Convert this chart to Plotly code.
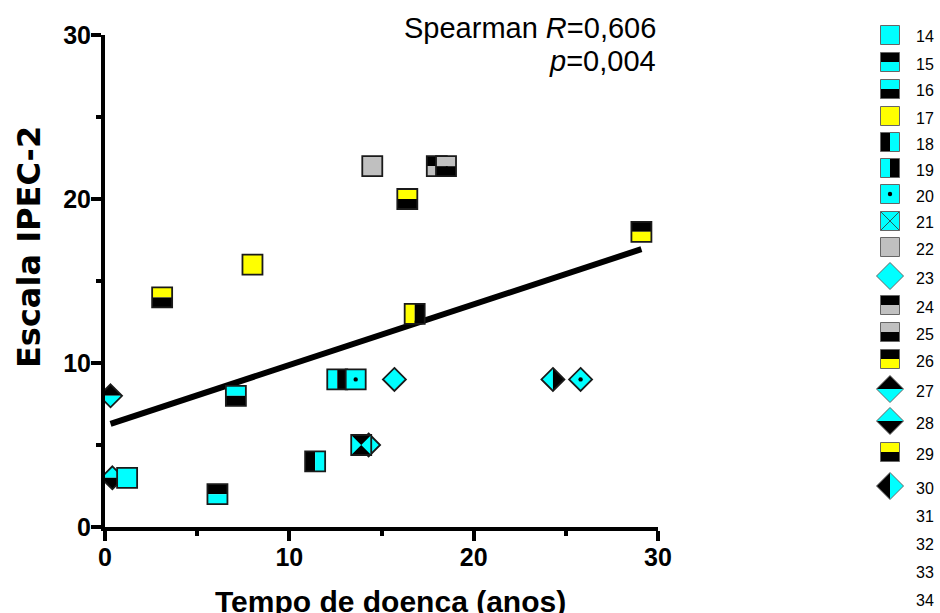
import numpy as np
import plotly.graph_objects as go

# ---------------- data ----------------
tempo_anos = [0.3, 0.4, 1.2, 6.1, 7.1, 11.4, 12.6, 13.6, 15.7, 24.3, 25.8,
              14.3, 13.9, 8.0, 3.1, 16.8, 14.5, 18.0, 18.5, 16.4, 29.1]
escala_ipec2 = [8, 3, 3, 2, 8, 4, 9, 9, 9, 9, 9,
                5, 5, 16, 14, 13, 22, 22, 22, 20, 18]
grupo = [27, 28, 14, 15, 16, 18, 19, 20, 23, 'A', 'B',
         30, 'C', 17, 29, 'D', 22, 24, 25, 29, 26]

legenda_codigos = list(range(14, 35))
legenda_sem_simbolo = [31, 32, 33, 34]

spearman_texto = ["Spearman <i>R</i>=0,606", "<i>p</i>=0,004"]
x_ticks = [0, 10, 20, 30]
y_ticks = [0, 10, 20, 30]
x_titulo = "Tempo de doenca (anos)"
y_titulo = "Escala IPEC-2"

# ---------------- styles ----------------
CY, BK, YE, GR = '#00FFFF', '#000000', '#FFFF00', '#C0C0C0'
estilos = {
    14: ('sq', [CY]), 15: ('sq_tb', [BK, CY]), 16: ('sq_tb', [CY, BK]),
    17: ('sq', [YE]), 18: ('sq_lr', [BK, CY]), 19: ('sq_lr', [CY, BK]),
    20: ('sq_dot', [CY]), 21: ('sq_x', [CY]), 22: ('sq', [GR]),
    23: ('dia', [CY]), 24: ('sq_tb', [BK, GR]), 25: ('sq_tb', [GR, BK]),
    26: ('sq_tb', [BK, YE]), 27: ('dia_tb', [BK, CY]), 28: ('dia_tb', [CY, BK]),
    29: ('sq_tb', [YE, BK]), 30: ('dia_lr', [BK, CY]),
    'A': ('dia_lr', [CY, BK]), 'B': ('dia_dot', [CY]),
    'C': ('sq_bow', [BK, CY]), 'D': ('sq_lr', [YE, BK]),
}

# layout geometry (pixels)
W, H = 940, 613
ML, MR, MT, MB = 105, 282, 35, 86
PW, PH = W - ML - MR, H - MT - MB
legend_label_px = [37, 64, 91, 118, 144, 170, 196, 223, 249, 278, 307, 334,
                   361, 391, 423, 454, 488, 516, 544, 572, 600]
legend_marker_xpx = 890
legend_label_xpx = 914


def px2paper_x(px):
    return (px - ML) / PW


def px2paper_y(py):
    return (H - MB - py) / PH


def P(pts):
    return "M " + " L ".join(f"{a},{b}" for a, b in pts) + " Z"


def marker_parts(style, colors, hs, hd):
    parts = []  # (path, fill)
    sq = P([(-hs, -hs), (hs, -hs), (hs, hs), (-hs, hs)])
    dia = P([(0, hd), (hd, 0), (0, -hd), (-hd, 0)])
    if style == 'sq':
        parts.append((sq, colors[0]))
        outline = sq
    elif style == 'sq_tb':
        parts.append((P([(-hs, 0), (hs, 0), (hs, hs), (-hs, hs)]), colors[0]))
        parts.append((P([(-hs, -hs), (hs, -hs), (hs, 0), (-hs, 0)]), colors[1]))
        outline = sq
    elif style == 'sq_lr':
        parts.append((P([(-hs, -hs), (0, -hs), (0, hs), (-hs, hs)]), colors[0]))
        parts.append((P([(0, -hs), (hs, -hs), (hs, hs), (0, hs)]), colors[1]))
        outline = sq
    elif style == 'sq_dot':
        parts.append((sq, colors[0]))
        parts.append(('circle', 2.2))
        outline = sq
    elif style == 'sq_x':
        parts.append((sq, colors[0]))
        parts.append(('xline', f"M {-hs},{-hs} L {hs},{hs} M {-hs},{hs} L {hs},{-hs}"))
        outline = sq
    elif style == 'sq_bow':
        parts.append((sq, colors[0]))
        parts.append((P([(-hs, hs), (0, 0), (-hs, -hs)]), colors[1]))
        parts.append((P([(hs, hs), (0, 0), (hs, -hs)]), colors[1]))
        outline = sq
    elif style == 'dia':
        parts.append((dia, colors[0]))
        outline = dia
    elif style == 'dia_tb':
        parts.append((P([(-hd, 0), (0, hd), (hd, 0)]), colors[0]))
        parts.append((P([(-hd, 0), (0, -hd), (hd, 0)]), colors[1]))
        outline = dia
    elif style == 'dia_lr':
        parts.append((P([(0, hd), (-hd, 0), (0, -hd)]), colors[0]))
        parts.append((P([(0, hd), (hd, 0), (0, -hd)]), colors[1]))
        outline = dia
    elif style == 'dia_dot':
        parts.append((dia, colors[0]))
        parts.append(('circle', 2.2))
        outline = dia
    return parts, outline


def make_shapes(xref, yref, x, y, code, hs, hd, lw, lc):
    style, colors = estilos[code]
    parts, outline = marker_parts(style, colors, hs, hd)
    base = dict(xref=xref, yref=yref, xsizemode='pixel', ysizemode='pixel',
                xanchor=x, yanchor=y, layer='above')
    out = []
    for a, b in parts:
        if a == 'circle':
            out.append(dict(base, type='circle', x0=-b, x1=b, y0=-b, y1=b,
                            fillcolor='black', line=dict(width=0)))
        elif a == 'xline':
            out.append(dict(base, type='path', path=b,
                            line=dict(color='#333333', width=0.8)))
        else:
            out.append(dict(base, type='path', path=a, fillcolor=b,
                            line=dict(width=0)))
    out.append(dict(base, type='path', path=outline,
                    fillcolor='rgba(0,0,0,0)', line=dict(color=lc, width=lw)))
    return out


fig = go.Figure()

# regression line (least squares through the data)
xa = np.array(tempo_anos)
ya = np.array(escala_ipec2)
slope, intercept = np.polyfit(xa, ya, 1)
xl = np.array([xa.min(), xa.max()])
fig.add_trace(go.Scatter(x=xl, y=slope * xl + intercept, mode='lines',
                         line=dict(color='black', width=6),
                         hoverinfo='skip', showlegend=False))

# invisible carrier of the points (hover); visual marks are shapes below
fig.add_trace(go.Scatter(x=tempo_anos, y=escala_ipec2, mode='markers',
                         marker=dict(size=18, opacity=0),
                         text=[str(g) for g in grupo],
                         showlegend=False))

shapes = []
for xv, yv, g in zip(tempo_anos, escala_ipec2, grupo):
    shapes += make_shapes('x', 'y', xv, yv, g, 10, 11.5, 1.8, '#1a1a1a')

annotations = []
for code, lpy in zip(legenda_codigos, legend_label_px):
    if code not in legenda_sem_simbolo:
        shapes += make_shapes('paper', 'paper', px2paper_x(legend_marker_xpx),
                              px2paper_y(lpy - 2), code, 9.5, 13.5, 1, '#666666')
    annotations.append(dict(xref='paper', yref='paper',
                            x=px2paper_x(legend_label_xpx), y=px2paper_y(lpy),
                            xanchor='left', yanchor='middle', showarrow=False,
                            text=str(code),
                            font=dict(family='Liberation Sans, Arial', size=16,
                                      color='black')))

for txt, py in zip(spearman_texto, [28, 61]):
    annotations.append(dict(xref='paper', yref='paper', x=1.0, y=px2paper_y(py),
                            xanchor='right', yanchor='middle', showarrow=False,
                            text=txt,
                            font=dict(family='Liberation Sans, Arial', size=29,
                                      color='black')))

annotations.append(dict(xref='paper', yref='paper', x=px2paper_x(390),
                        y=px2paper_y(601), xanchor='center', yanchor='middle',
                        showarrow=False, text='<b>' + x_titulo + '</b>',
                        font=dict(family='Liberation Sans, Arial', size=30,
                                  color='black')))
annotations.append(dict(xref='paper', yref='paper', x=px2paper_x(29),
                        y=px2paper_y(247), xanchor='center', yanchor='middle',
                        showarrow=False, textangle=-90,
                        text='<b>' + y_titulo + '</b>',
                        font=dict(family='DejaVu Sans', size=32, color='black')))

tickfont = dict(family='Liberation Sans Narrow, Liberation Sans, Arial',
                size=25, color='black', weight='bold')
axis_common = dict(showline=True, linewidth=4, linecolor='black',
                   ticks='outside', ticklen=10, tickwidth=4, tickcolor='black',
                   ticklabelstandoff=-5,
                   showgrid=False, zeroline=False, tickfont=tickfont,
                   minor=dict(dtick=5, ticks='outside', ticklen=5, tickwidth=4,
                              tickcolor='black', showgrid=False))

fig.update_layout(
    width=W, height=H,
    margin=dict(l=ML, r=MR, t=MT, b=MB),
    plot_bgcolor='white', paper_bgcolor='white',
    xaxis=dict(range=[0, 30], tickvals=x_ticks, **axis_common),
    yaxis=dict(range=[0, 30], tickvals=y_ticks, **axis_common),
    shapes=shapes, annotations=annotations, showlegend=False,
)

fig.write_html("out.html",
               config={'displayModeBar': False},
               post_script="document.body.style.margin='0';"
                           "document.body.style.overflow='hidden';")
